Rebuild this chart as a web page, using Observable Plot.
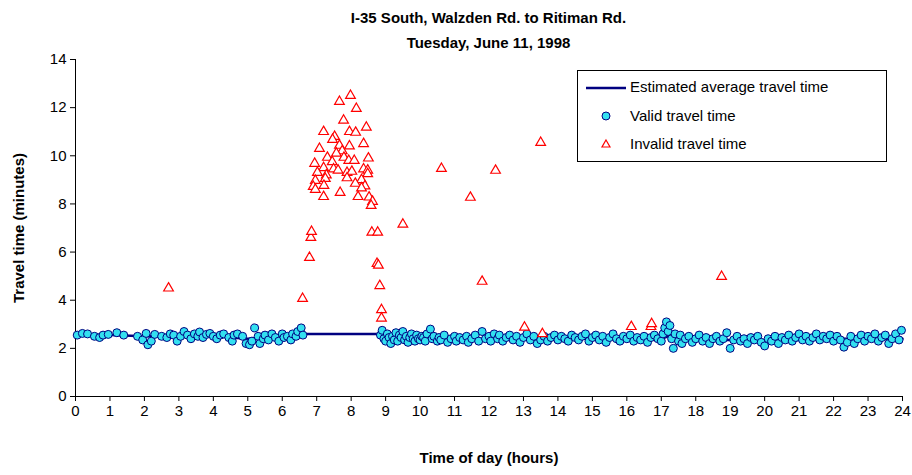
<!DOCTYPE html>
<html><head><meta charset="utf-8">
<script src="https://cdn.jsdelivr.net/npm/d3@7"></script>
<script src="https://cdn.jsdelivr.net/npm/@observablehq/plot@0.6"></script>
<style>
body{margin:0;background:#fff;font-family:Arial,"Liberation Sans",sans-serif;}
#wrap{position:relative;width:912px;height:475px;}
#title{position:absolute;top:5px;left:75px;width:827px;text-align:center;font-weight:bold;font-size:15px;line-height:25px;}
#chart{position:absolute;top:50px;left:0;}
#legend{position:absolute;left:577px;top:70px;width:308px;height:90px;border:1px solid #000;background:#fff;font-size:15px;}
#legend div{position:absolute;left:52px;}
</style></head><body>
<div id="wrap">
<div id="title">I-35 South, Walzden Rd. to Ritiman Rd.<br>Tuesday, June 11, 1998</div>
<div id="chart"></div>
<div id="legend">
<svg width="308" height="90" style="position:absolute;left:0;top:0">
<line x1="8" x2="48" y1="17" y2="17" stroke="#000080" stroke-width="2.5"/>
<circle cx="28" cy="45" r="4" fill="#33e0f0" stroke="#000080" stroke-width="1"/>
<path d="M28,69 L32,76 L24,76 Z" fill="#fff" stroke="#ff0000" stroke-width="1.2"/>
</svg>
<div style="top:7px">Estimated average travel time</div>
<div style="top:36px">Valid travel time</div>
<div style="top:64px">Invalid travel time</div>
</div>
</div>
<script>
const validPts = [[0.05,2.55],[0.2,2.62],[0.35,2.6],[0.55,2.5],[0.7,2.45],[0.8,2.55],[0.95,2.58],[1.2,2.65],[1.4,2.55],[1.8,2.5],[1.95,2.35],[2.05,2.62],[2.1,2.15],[2.2,2.3],[2.3,2.58],[2.5,2.5],[2.65,2.45],[2.75,2.6],[2.85,2.55],[2.95,2.3],[3.05,2.5],[3.15,2.7],[3.25,2.55],[3.35,2.4],[3.45,2.6],[3.55,2.5],[3.6,2.68],[3.7,2.45],[3.8,2.58],[3.9,2.62],[4.0,2.5],[4.1,2.4],[4.2,2.55],[4.3,2.6],[4.45,2.45],[4.55,2.3],[4.6,2.55],[4.7,2.6],[4.85,2.5],[4.95,2.2],[5.05,2.15],[5.12,2.3],[5.2,2.85],[5.3,2.5],[5.35,2.2],[5.45,2.4],[5.5,2.55],[5.6,2.35],[5.7,2.6],[5.8,2.45],[5.9,2.3],[6.0,2.6],[6.05,2.45],[6.15,2.5],[6.25,2.35],[6.3,2.6],[6.4,2.5],[6.45,2.7],[6.55,2.85],[6.6,2.55],
[8.85,2.55],[8.9,2.75],[8.95,2.4],[9.0,2.3],[9.05,2.6],[9.1,2.45],[9.15,2.2],[9.2,2.5],[9.25,2.35],[9.3,2.65],[9.35,2.3],[9.4,2.55],[9.45,2.45],[9.5,2.7],[9.55,2.35],[9.6,2.5],[9.65,2.25],[9.7,2.45],[9.75,2.6],[9.8,2.4],[9.85,2.3],[9.9,2.55],[9.95,2.4],[10.0,2.35],[10.05,2.5],[10.1,2.45],[10.15,2.3],[10.2,2.6],[10.3,2.8],[10.35,2.4],[10.4,2.5],[10.5,2.3],[10.55,2.45],[10.6,2.35],[10.7,2.55],[10.8,2.25],[10.9,2.4],[11.0,2.5],[11.05,2.3],[11.15,2.45],[11.25,2.35],[11.35,2.5],[11.4,2.25],[11.5,2.4],[11.6,2.55],[11.7,2.3],[11.8,2.7],[11.9,2.4],[12.0,2.5],[12.05,2.3],[12.15,2.6],[12.25,2.4],[12.3,2.55],[12.4,2.3],[12.5,2.45],[12.6,2.55],[12.7,2.35],[12.8,2.5],[12.9,2.25],[13.0,2.45],[13.1,2.6],[13.2,2.35],[13.3,2.5],[13.4,2.2],[13.5,2.35],[13.6,2.5],[13.7,2.3],[13.8,2.45],[13.9,2.55],[14.0,2.35],[14.1,2.5],[14.2,2.4],[14.3,2.3],[14.4,2.55],[14.5,2.45],[14.6,2.35],[14.7,2.5],[14.8,2.6],[14.9,2.3],[15.0,2.45],[15.1,2.55],[15.2,2.35],[15.3,2.5],[15.4,2.25],[15.5,2.45],[15.6,2.6],[15.7,2.4],[15.8,2.3],[15.9,2.5],[16.0,2.4],[16.1,2.55],[16.2,2.3],[16.3,2.45],[16.4,2.35],[16.5,2.5],[16.6,2.25],[16.7,2.45],[16.8,2.55],[16.9,2.4],[17.0,2.3],[17.05,2.6],[17.1,2.85],[17.15,3.1],[17.2,2.7],[17.25,2.95],[17.3,2.4],[17.35,2.0],[17.4,2.6],[17.5,2.3],[17.55,2.55],[17.6,2.2],[17.7,2.4],[17.8,2.5],[17.9,2.25],[18.0,2.4],[18.1,2.55],[18.2,2.3],[18.3,2.45],[18.4,2.2],[18.5,2.4],[18.6,2.5],[18.7,2.3],[18.8,2.4],[18.9,2.65],[19.0,2.0],[19.1,2.35],[19.2,2.5],[19.3,2.3],[19.4,2.4],[19.5,2.2],[19.6,2.45],[19.7,2.35],[19.8,2.5],[19.9,2.25],[20.0,2.1],[20.1,2.4],[20.2,2.3],[20.3,2.5],[20.4,2.2],[20.5,2.45],[20.6,2.35],[20.7,2.55],[20.8,2.3],[20.9,2.45],[21.0,2.6],[21.1,2.35],[21.2,2.5],[21.3,2.3],[21.4,2.45],[21.5,2.6],[21.6,2.35],[21.7,2.5],[21.8,2.4],[21.9,2.55],[22.0,2.3],[22.1,2.5],[22.2,2.35],[22.3,2.05],[22.4,2.25],[22.5,2.5],[22.6,2.2],[22.7,2.4],[22.8,2.55],[22.9,2.3],[23.0,2.5],[23.1,2.4],[23.2,2.6],[23.3,2.3],[23.4,2.45],[23.5,2.55],[23.6,2.2],[23.7,2.4],[23.8,2.6],[23.9,2.35],[23.97,2.75]];

const invalidPts = [[2.7,4.5],[6.59,4.07],[6.79,5.77],[6.83,6.6],[6.85,6.85],[7.98,12.5],[7.66,12.25],[8.15,11.96],[7.78,11.47],[7.2,11.0],[8.44,11.18],[7.52,10.8],[7.95,11.0],[8.13,10.97],[7.46,10.67],[8.36,10.5],[7.08,10.3],[7.66,10.43],[7.95,10.4],[7.74,10.2],[7.57,10.1],[7.31,9.93],[7.79,9.93],[8.5,9.9],[6.94,9.68],[7.45,9.75],[7.93,9.8],[8.09,9.8],[7.2,9.5],[7.49,9.45],[7.62,9.4],[8.36,9.45],[8.48,9.4],[7.02,9.3],[7.28,9.2],[7.88,9.3],[8.02,9.35],[8.48,9.25],[6.96,8.97],[7.25,9.05],[7.88,9.08],[8.3,9.0],[6.9,8.72],[7.21,8.76],[8.12,8.85],[8.4,8.74],[6.96,8.6],[8.3,8.66],[7.2,8.3],[7.68,8.47],[8.2,8.3],[8.52,8.28],[8.62,8.1],[8.58,7.93],[9.5,7.15],[8.6,6.82],[8.77,6.82],[8.75,5.52],[8.79,5.45],[8.83,4.6],[8.88,3.6],[8.88,3.25],[10.62,9.47],[11.46,8.27],[11.8,4.78],[12.19,9.39],[13.5,10.55],[13.03,2.87],[13.55,2.6],[16.13,2.9],[16.7,2.9],[16.72,3.02],[18.75,4.98]];

const avgPts = [[0,2.55],[1,2.55],[2,2.5],[3,2.5],[4,2.5],[5,2.4],[6,2.5],[6.6,2.6],[8.9,2.6],[9.5,2.45],[10.5,2.4],[12,2.4],[14,2.4],[16,2.4],[17,2.4],[17.3,2.55],[17.6,2.35],[19,2.35],[20,2.3],[22,2.4],[24,2.4]];

const xTicks = d3.range(0, 25);
const yTicks = [0,2,4,6,8,10,12,14];

const plot = Plot.plot({
  width: 912, height: 425,
  marginLeft: 75, marginRight: 10, marginTop: 9, marginBottom: 79,
  style: {fontFamily: "Arial, 'Liberation Sans', sans-serif", fontSize: "14px", color: "#000"},
  x: {domain: [0, 24], ticks: xTicks, label: "Time of day (hours)", labelAnchor: "center", labelArrow: "none"},
  y: {domain: [0, 14], ticks: yTicks, label: "Travel time (minutes)", labelAnchor: "center", labelArrow: "none"},
  marks: [
    Plot.axisX({ticks: xTicks, tickSize: 5, tickPadding: 4, fontSize: 15, label: "Time of day (hours)", labelAnchor: "center", labelArrow: "none", labelOffset: 66}),
    Plot.axisY({ticks: yTicks, tickSize: 5, tickPadding: 4, fontSize: 15, label: "Travel time (minutes)", labelAnchor: "center", labelArrow: "none", labelOffset: 62}),
    Plot.ruleX([0]), Plot.ruleY([0]),
    Plot.line(avgPts, {x: d => d[0], y: d => d[1], stroke: "#000080", strokeWidth: 2.5}),
    Plot.dot(validPts, {x: d => d[0], y: d => d[1], r: 4, fill: "#33e0f0", stroke: "#000080", strokeWidth: 1}),
    Plot.dot(invalidPts, {x: d => d[0], y: d => d[1], symbol: "triangle", r: 3.6, fill: "#fff", stroke: "#ff0000", strokeWidth: 1.2})
  ]
});
plot.querySelectorAll("g[aria-label='x-axis label'] text, g[aria-label='y-axis label'] text").forEach(t => {t.style.fontWeight = "bold"; t.style.fontSize = "15px";});
document.getElementById("chart").appendChild(plot);
</script>
</body></html>
